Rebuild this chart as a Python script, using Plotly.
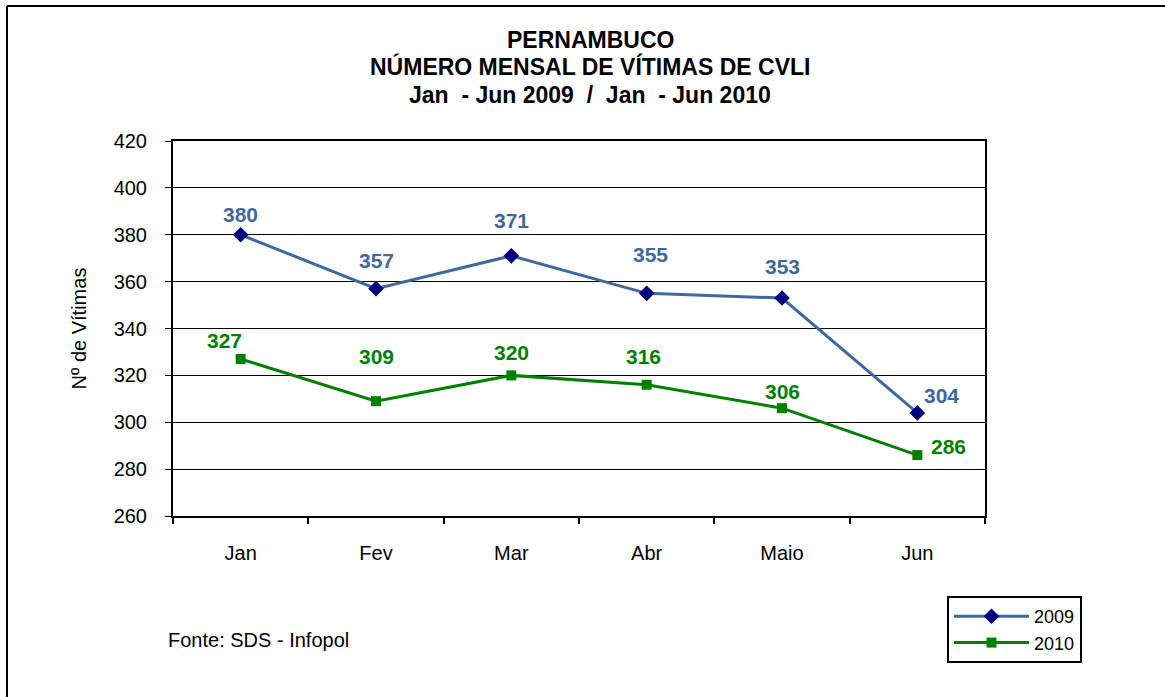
import plotly.graph_objects as go

months = ["Jan", "Fev", "Mar", "Abr", "Maio", "Jun"]
v2009 = [380, 357, 371, 355, 353, 304]
v2010 = [327, 309, 320, 316, 306, 286]
yticks = [260, 280, 300, 320, 340, 360, 380, 400, 420]

# label offsets (pixels) – style only
off2009 = [(0, 20), (0, 28), (0, 35), (4, 39), (0, 32), (24, 17)]
off2010 = [(-16, 18), (0, 45), (0, 23), (-3, 28), (0, 17), (31, 9)]

W, H = 1165, 697
L, R, T, B = 173, 985, 141, 516
FONT = "Arial, Liberation Sans, sans-serif"
C09_LINE = "#41689C"
C09_MARK = "#000080"
C10 = "#008000"

fig = go.Figure()
fig.add_trace(go.Scatter(x=months, y=v2009, name="2009", mode="lines+markers",
                         line=dict(color=C09_LINE, width=3),
                         marker=dict(symbol="diamond", size=12, color=C09_MARK)))
fig.add_trace(go.Scatter(x=months, y=v2010, name="2010", mode="lines+markers",
                         line=dict(color=C10, width=3),
                         marker=dict(symbol="square", size=10, color=C10)))

ann = []
for m, v, (dx, dy) in zip(months, v2009, off2009):
    ann.append(dict(x=m, y=v, text=str(v), showarrow=False, xshift=dx, yshift=dy,
                    font=dict(family=FONT, size=21, color=C09_LINE, weight="bold")))
for m, v, (dx, dy) in zip(months, v2010, off2010):
    ann.append(dict(x=m, y=v, text=str(v), showarrow=False, xshift=dx, yshift=dy,
                    font=dict(family=FONT, size=21, color=C10, weight="bold")))

def px(x):
    return (x - L) / (R - L)

def py(y):
    return (B - y) / (B - T)

title_lines = ["PERNAMBUCO", "NÚMERO MENSAL DE VÍTIMAS DE CVLI", "Jan  - Jun 2009  /  Jan  - Jun 2010"]
for yy, t in zip([40, 67, 95], title_lines):
    ann.append(dict(x=px(590), y=py(yy), xref="paper", yref="paper", text=t, showarrow=False,
                    xanchor="center", yanchor="middle",
                    font=dict(family=FONT, size=23, color="black", weight="bold")))
ann.append(dict(x=px(166), y=py(640), xref="paper", yref="paper", text="Fonte: SDS - Infopol",
                showarrow=False, xanchor="left", yanchor="middle",
                font=dict(family=FONT, size=20, color="black")))

shapes = [
    dict(type="line", xref="paper", yref="paper", x0=px(7), x1=px(1200), y0=py(6), y1=py(6),
         line=dict(color="black", width=2)),
    dict(type="line", xref="paper", yref="paper", x0=px(7), x1=px(7), y0=py(6), y1=py(740),
         line=dict(color="black", width=2)),
]

fig.update_layout(
    width=W, height=H, autosize=False,
    margin=dict(l=L, r=W - R, t=T, b=H - B),
    paper_bgcolor="white", plot_bgcolor="white",
    font=dict(family=FONT, size=20, color="black"),
    showlegend=True,
    legend=dict(x=px(947), y=py(596), xanchor="left", yanchor="top",
                bordercolor="black", borderwidth=2, bgcolor="white",
                font=dict(family=FONT, size=18, color="black"),
                itemwidth=75, tracegroupgap=0),
    annotations=ann,
    shapes=shapes,
)
fig.update_xaxes(type="category", range=[-0.5, 5.5], showgrid=False,
                 showline=True, linecolor="black", linewidth=2, mirror=True,
                 ticks="outside", tickson="boundaries", ticklen=6, tickwidth=2, tickcolor="black",
                 ticklabelstandoff=18, tickfont=dict(size=20))
fig.update_yaxes(range=[260, 420], tickvals=yticks, showgrid=True, gridcolor="black", gridwidth=1,
                 showline=True, linecolor="black", linewidth=2, mirror=True,
                 ticks="outside", ticklen=6, tickwidth=1, tickcolor="black",
                 ticklabelstandoff=14, tickfont=dict(size=20), zeroline=False,
                 title=dict(text="Nº de Vítimas", font=dict(size=20), standoff=22))

fig.write_html("out.html", post_script="document.body.style.margin='0';",
               config={"displayModeBar": False})
